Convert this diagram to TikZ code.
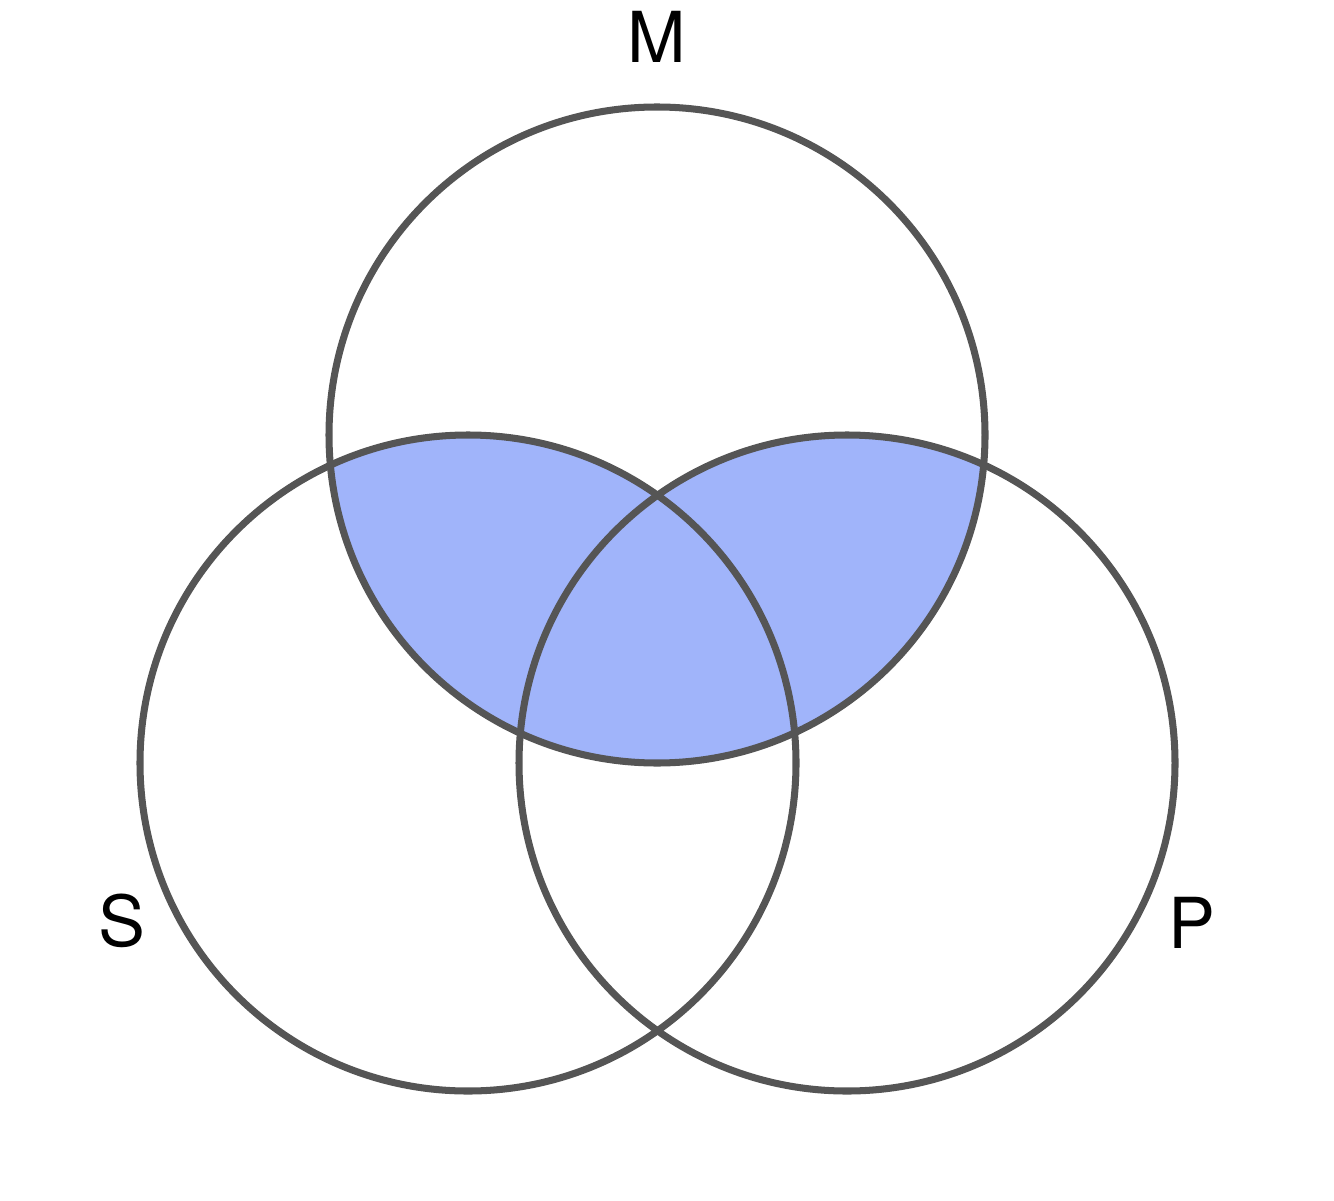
\documentclass[tikz,border=0pt]{standalone}
\usepackage{fontspec}
\setmainfont{TeX Gyre Heros}
\usetikzlibrary{positioning}
\definecolor{ringgray}{RGB}{85,85,85}
\definecolor{shadeblue}{RGB}{160,180,250}

\begin{document}
\begin{tikzpicture}[
  ring/.style={
    draw=ringgray,
    line width=2pt
  },
  setlabel/.style={
    font=\fontsize{20}{24}\selectfont,
    inner sep=0pt
  }
]
\useasboundingbox (0,0) rectangle (13.34,12);

% circle centres
\coordinate (mc) at (6.57,7.65);
\coordinate (sc) at (4.68,4.37);
\coordinate (pc) at (8.47,4.37);
\def\rad{3.28}

% shaded part of M
\begin{scope}
  \clip (mc) circle (\rad);
  \fill[shadeblue] (sc) circle (\rad);
  \fill[shadeblue] (pc) circle (\rad);
\end{scope}

% rings
\draw[ring] (mc) circle (\rad);
\draw[ring] (sc) circle (\rad);
\draw[ring] (pc) circle (\rad);

% labels
\node[setlabel] (mlabel) at (6.57,11.63) {M};
\node[setlabel] (slabel) at (1.22,2.79) {S};
\node[setlabel] (plabel) at (11.92,2.77) {P};

\end{tikzpicture}
\end{document}
